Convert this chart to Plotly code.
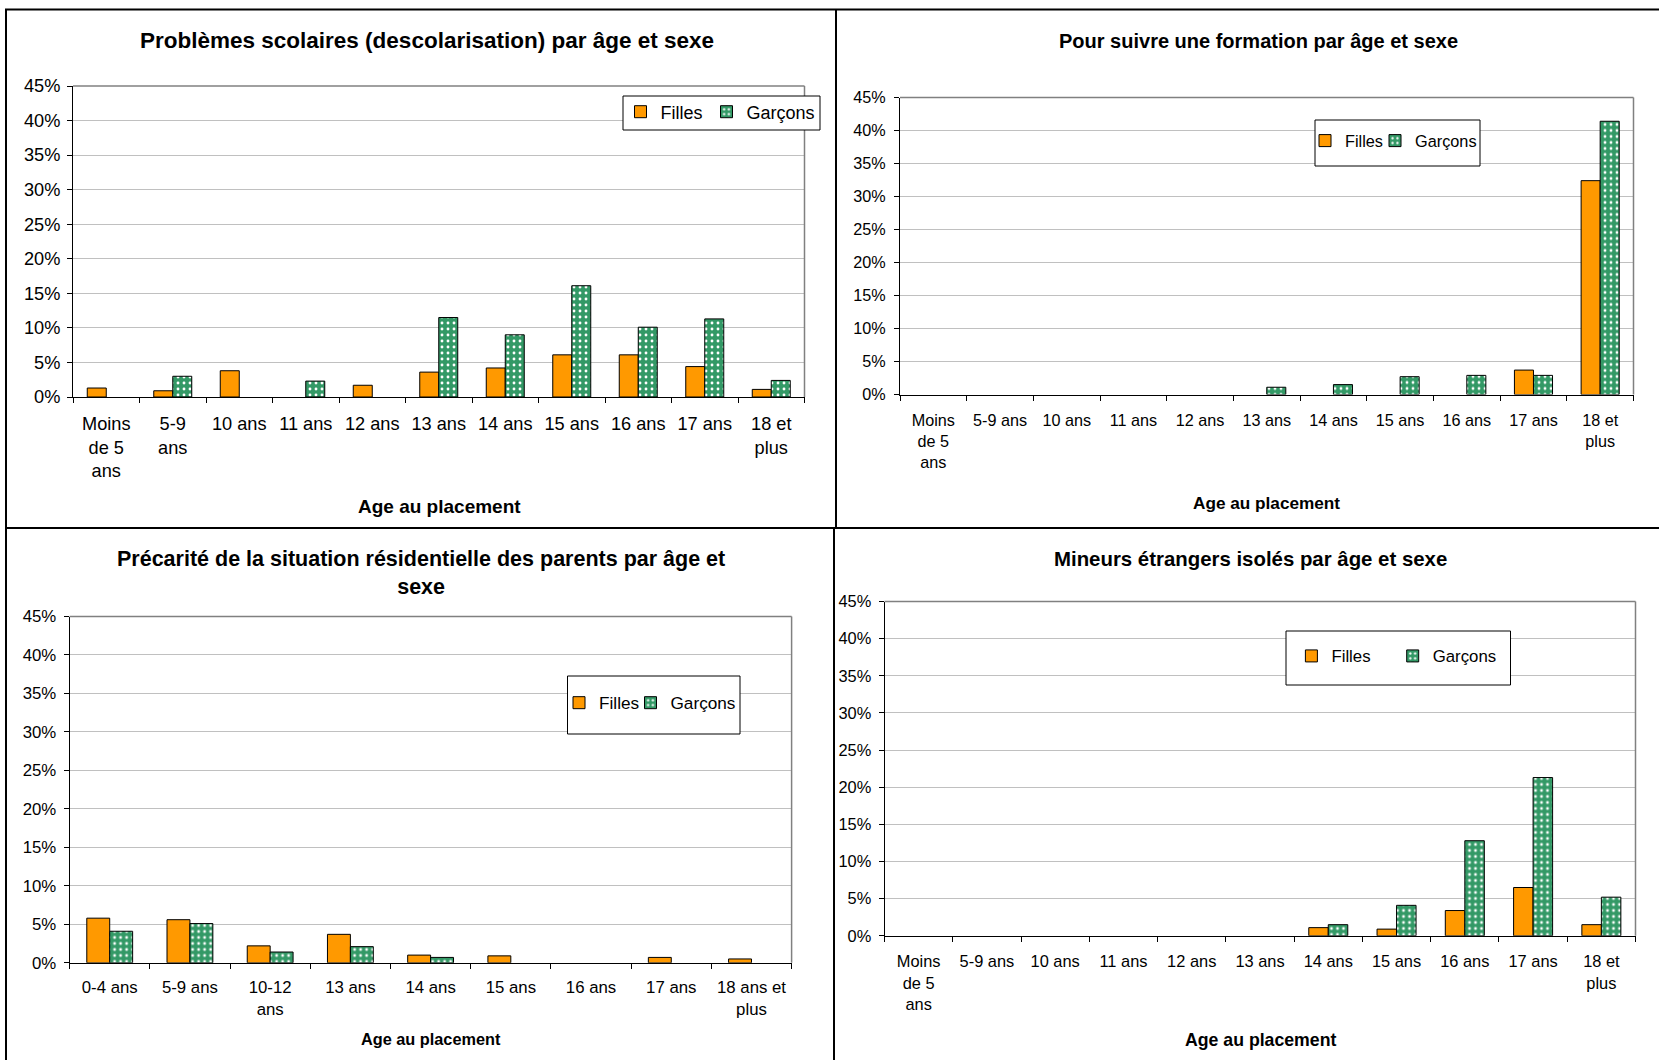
import plotly.graph_objects as go

W, H = 1659, 1060

# ---------------- data ----------------
ages_a = ["Moins de 5 ans", "5-9 ans", "10 ans", "11 ans", "12 ans", "13 ans",
          "14 ans", "15 ans", "16 ans", "17 ans", "18 et plus"]
ages_b = ["0-4 ans", "5-9 ans", "10-12 ans", "13 ans", "14 ans", "15 ans",
          "16 ans", "17 ans", "18 ans et plus"]

labels_p1 = ["Moins<br>de 5<br>ans", "5-9<br>ans", "10 ans", "11 ans", "12 ans", "13 ans",
             "14 ans", "15 ans", "16 ans", "17 ans", "18 et<br>plus"]
labels_p2 = ["Moins<br>de 5<br>ans", "5-9 ans", "10 ans", "11 ans", "12 ans", "13 ans",
             "14 ans", "15 ans", "16 ans", "17 ans", "18 et<br>plus"]
labels_p3 = ["0-4 ans", "5-9 ans", "10-12<br>ans", "13 ans", "14 ans", "15 ans",
             "16 ans", "17 ans", "18 ans et<br>plus"]
labels_p4 = labels_p2

scol_filles = [1.3, 0.9, 3.8, 0, 1.7, 3.6, 4.2, 6.1, 6.1, 4.4, 1.1]
scol_garcons = [0, 3.0, 0, 2.3, 0, 11.5, 9.0, 16.1, 10.1, 11.3, 2.4]

form_filles = [0, 0, 0, 0, 0, 0, 0, 0, 0, 3.7, 32.4]
form_garcons = [0, 0, 0, 0, 0, 1.1, 1.5, 2.7, 2.9, 2.9, 41.4]

prec_filles = [5.8, 5.6, 2.2, 3.7, 1.0, 0.9, 0, 0.7, 0.5]
prec_garcons = [4.1, 5.1, 1.4, 2.1, 0.7, 0, 0, 0, 0]

mine_filles = [0, 0, 0, 0, 0, 0, 1.1, 0.9, 3.4, 6.5, 1.5]
mine_garcons = [0, 0, 0, 0, 0, 0, 1.5, 4.1, 12.8, 21.3, 5.2]

titles = [
    "Problèmes scolaires (descolarisation) par âge et sexe",
    "Pour suivre une formation par âge et sexe",
    "Précarité de la situation résidentielle des parents par âge et<br>sexe",
    "Mineurs étrangers isolés par âge et sexe",
]
axis_title = "Age au placement"
y_ticks = [0, 5, 10, 15, 20, 25, 30, 35, 40, 45]

# ---------------- styling / layout ----------------
FONT = "Liberation Sans, Arial, sans-serif"
ORANGE = "#FF9900"
GREEN = "#339966"

panels = [
    dict(cats=ages_a, labels=labels_p1, f=scol_filles, g=scol_garcons,
         px=(73, 804.5), py=(86, 397), tick=18.2, tstand=10, ystand=3,
         title=(427, 40.5, 22.5), atitle=(439, 506, 19),
         leg=dict(x=620.5, y=112, size=18, ew=41), box=(623, 96, 820, 130)),
    dict(cats=ages_a, labels=labels_p2, f=form_filles, g=form_garcons,
         px=(900, 1633.5), py=(97.5, 394.5), tick=16.2, tstand=11, ystand=5,
         title=(1258, 40.5, 20), atitle=(1266, 503, 17.2),
         leg=dict(x=1305, y=141, size=16.3, ew=25), box=(1315, 120, 1480, 166)),
    dict(cats=ages_b, labels=labels_p3, f=prec_filles, g=prec_garcons,
         px=(69.6, 791.6), py=(616.5, 962.8), tick=16.8, tstand=9, ystand=4,
         title=(420.5, 573.3, 21.5), atitle=(430.6, 1039, 16.3),
         leg=dict(x=559, y=703, size=17.2, ew=26.5), box=(567.5, 676, 740, 734)),
    dict(cats=ages_a, labels=labels_p4, f=mine_filles, g=mine_garcons,
         px=(884.5, 1635.5), py=(601.5, 935.8), tick=16.4, tstand=11, ystand=4,
         title=(1250.5, 559, 20.4), atitle=(1260, 1040, 17.7),
         leg=dict(x=1291.4, y=656, size=16.8, ew=56.3), box=(1286, 631, 1510.5, 685)),
]


def nz(values):
    # zero-valued bars are not drawn (as in the original chart)
    return [v if v else None for v in values]


fig = go.Figure()
layout = dict(
    width=W, height=H, autosize=False,
    margin=dict(l=0, r=0, t=0, b=0, pad=0, autoexpand=False),
    paper_bgcolor="white", plot_bgcolor="white",
    barmode="group", bargap=0.4286, bargroupgap=0,
    font=dict(family=FONT, color="black"),
    showlegend=True,
)
shapes = []
annotations = []

for i, p in enumerate(panels, start=1):
    sfx = "" if i == 1 else str(i)
    xa, ya = "x" + sfx, "y" + sfx
    leg = "legend" + sfx
    fig.add_trace(go.Bar(
        x=p["cats"], y=nz(p["f"]), name="Filles", xaxis=xa, yaxis=ya, legend=leg,
        legendwidth=p["leg"]["ew"],
        marker=dict(color=ORANGE, line=dict(color="black", width=1)),
        hoverinfo="skip"))
    fig.add_trace(go.Bar(
        x=p["cats"], y=nz(p["g"]), name="Garçons", xaxis=xa, yaxis=ya, legend=leg,
        marker=dict(color=GREEN, line=dict(color="black", width=1),
                    pattern=dict(shape=".", fgcolor="white", bgcolor=GREEN,
                                 size=6, solidity=0.18, fillmode="replace")),
        hoverinfo="skip"))

    layout["xaxis" + sfx] = dict(
        domain=[p["px"][0] / W, p["px"][1] / W], anchor=ya, automargin=False,
        type="category", categoryorder="array", categoryarray=p["cats"],
        tickmode="array", tickvals=p["cats"], ticktext=p["labels"],
        tickson="boundaries", ticks="outside", ticklen=5, tickcolor="black", tickwidth=1,
        showline=True, linecolor="black", linewidth=1, showgrid=False,
        tickfont=dict(family=FONT, size=p["tick"], color="black"),
        ticklabelstandoff=p["tstand"], fixedrange=True, tickangle=0,
    )
    layout["yaxis" + sfx] = dict(
        domain=[1 - p["py"][1] / H, 1 - p["py"][0] / H], anchor=xa, automargin=False,
        range=[0, 45], tickmode="array", tickvals=y_ticks,
        ticktext=[f"{v}%" for v in y_ticks],
        ticks="outside", ticklen=5, tickcolor="black", tickwidth=1,
        showline=True, linecolor="black", linewidth=1,
        showgrid=True, gridcolor="#C0C0C0", gridwidth=1, zeroline=False,
        tickfont=dict(family=FONT, size=p["tick"], color="black"),
        ticklabelstandoff=p["ystand"], fixedrange=True,
    )
    lg = p["leg"]
    layout[leg] = dict(
        orientation="h", x=lg["x"] / W, y=1 - lg["y"] / H,
        xanchor="left", yanchor="middle",
        bgcolor="rgba(0,0,0,0)", borderwidth=0,
        font=dict(family=FONT, size=lg["size"], color="black"),
        entrywidth=0, entrywidthmode="pixels",
        itemclick=False, itemdoubleclick=False, traceorder="normal",
    )
    # plot-area border (top and right, grey)
    shapes.append(dict(type="line", xref=xa + " domain", yref=ya + " domain",
                       x0=0, x1=1, y0=1, y1=1, line=dict(color="#808080", width=1.5)))
    shapes.append(dict(type="line", xref=xa + " domain", yref=ya + " domain",
                       x0=1, x1=1, y0=0, y1=1, line=dict(color="#808080", width=1.5)))
    # legend box
    bx0, by0, bx1, by1 = p["box"]
    shapes.append(dict(type="rect", xref="paper", yref="paper",
                       x0=bx0 / W, x1=bx1 / W, y0=1 - by1 / H, y1=1 - by0 / H,
                       fillcolor="white", line=dict(color="black", width=1), layer="above"))
    # titles
    tx, ty, ts = p["title"]
    annotations.append(dict(text=titles[i - 1], x=tx / W, y=1 - ty / H, xref="paper", yref="paper",
                            xanchor="center", yanchor="middle", showarrow=False,
                            font=dict(family=FONT, size=ts, color="black", weight="bold")))
    ax_x, ax_y, ax_s = p["atitle"]
    annotations.append(dict(text=axis_title, x=ax_x / W, y=1 - ax_y / H, xref="paper", yref="paper",
                            xanchor="center", yanchor="middle", showarrow=False,
                            font=dict(family=FONT, size=ax_s, color="black", weight="bold")))


# outer frame lines of the four chart panels
def hline(y, x0, x1):
    return dict(type="line", xref="paper", yref="paper", x0=x0 / W, x1=x1 / W,
                y0=1 - y / H, y1=1 - y / H, line=dict(color="black", width=2))


def vline(x, y0, y1):
    return dict(type="line", xref="paper", yref="paper", x0=x / W, x1=x / W,
                y0=1 - y0 / H, y1=1 - y1 / H, line=dict(color="black", width=2))


shapes += [hline(9.5, 5, 1659), hline(528, 5, 1659), vline(6, 9, 1060),
           vline(836, 9, 528), vline(834, 528, 1060)]

layout["shapes"] = shapes
layout["annotations"] = annotations
fig.update_layout(**layout)

post = ("var gd=document.getElementById('{plot_id}');"
        "document.documentElement.style.margin='0';"
        "document.documentElement.style.overflow='hidden';"
        "document.body.style.margin='0';document.body.style.padding='0';"
        "document.body.style.overflow='hidden';"
        "gd.style.position='absolute';gd.style.left='0px';gd.style.top='0px';")

fig.write_html("out.html", config={"displayModeBar": False}, post_script=post)
